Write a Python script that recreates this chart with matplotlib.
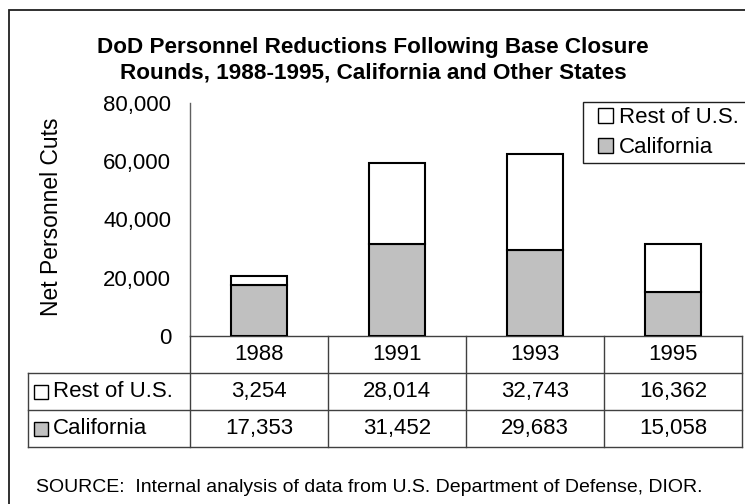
import matplotlib
matplotlib.use("Agg")
import matplotlib.pyplot as plt
from matplotlib.patches import Rectangle, Patch

plt.rcParams['font.family'] = ['Liberation Sans', 'DejaVu Sans']

years = ["1988", "1991", "1993", "1995"]
california = [17353, 31452, 29683, 15058]
rest_of_us = [3254, 28014, 32743, 16362]
series_names = ["Rest of U.S.", "California"]
yticks = [0, 20000, 40000, 60000, 80000]
title = "DoD Personnel Reductions Following Base Closure\nRounds, 1988-1995, California and Other States"
ylabel = "Net Personnel Cuts"
source = "SOURCE:  Internal analysis of data from U.S. Department of Defense, DIOR."

W, H = 745, 504
fig = plt.figure(figsize=(W / 100, H / 100), dpi=100)
fig.patch.set_facecolor("white")

def px(x0, y0, x1, y1):
    return [x0 / W, 1 - y1 / H, (x1 - x0) / W, (y1 - y0) / H]

GREY = "#c0c0c0"
LINEC = "#404040"
FS = 16

# outer border
fig.add_artist(Rectangle((9 / W, -0.05), 1.2, 1 - 10 / H + 0.05, transform=fig.transFigure,
                         fill=False, edgecolor="#202020", linewidth=1.3))

# main chart
ax = fig.add_axes(px(190, 103, 742, 336))
x = list(range(len(years)))
bw = 0.4
ax.bar(x, california, width=bw, color=GREY, edgecolor="black", linewidth=1.5, zorder=3)
ax.bar(x, rest_of_us, width=bw, bottom=california, color="white", edgecolor="black",
       linewidth=1.5, zorder=3)
ax.set_xlim(-0.5, len(years) - 0.5)
ax.set_ylim(0, 80000)
ax.set_yticks(yticks)
ax.set_yticklabels([f"{v:,}" for v in yticks], fontsize=FS)
ax.tick_params(axis="y", length=0, pad=13.5)
ax.set_xticks([])
for s in ["top", "right"]:
    ax.spines[s].set_visible(False)
ax.spines["left"].set_color("#606060")
ax.spines["bottom"].set_color(LINEC)
ax.spines["left"].set_linewidth(1.0)
ax.spines["bottom"].set_linewidth(1.0)
ax.set_facecolor("none")

fig.text(52 / W, 1 - 217 / H, ylabel, rotation=90, ha="center", va="center", fontsize=16.5)
fig.text(373 / W, 1 - 60 / H, title, ha="center", va="center", fontsize=16.2,
         fontweight="bold", linespacing=1.3)

# legend (frame drawn separately so it runs off the right edge like the reference)
fig.add_artist(Rectangle((583 / W, 1 - 163 / H), 0.5, 61 / H, transform=fig.transFigure,
                         facecolor="white", edgecolor="#202020", linewidth=1.0, zorder=5))
handles = [Patch(facecolor="white", edgecolor="black", linewidth=1.0),
           Patch(facecolor=GREY, edgecolor="black", linewidth=1.0)]
leg = fig.legend(handles, series_names, loc="upper left",
                 bbox_to_anchor=(598 / W, 1 - 107 / H), fontsize=FS, frameon=False,
                 handlelength=0.68, handleheight=0.68, handletextpad=0.28,
                 borderpad=0, labelspacing=0.42, borderaxespad=0)
leg.set_zorder(6)

# data table
colw = 138.0
left_px = 28
tab = fig.add_axes(px(left_px, 336, 742, 447))
x0 = -0.5 - (190 - left_px) / colw
tab.set_xlim(x0, len(years) - 0.5)
tab.set_ylim(3, 0)
tab.axis("off")
lw = 1.0
for yy in [1, 2, 3]:
    tab.plot([x0, len(years) - 0.5], [yy, yy], color=LINEC, lw=lw, clip_on=False)
for i in range(len(years) + 1):
    tab.plot([i - 0.5, i - 0.5], [0, 3], color=LINEC, lw=lw, clip_on=False)
tab.plot([x0, x0], [1, 3], color=LINEC, lw=lw, clip_on=False)

for i, yr in enumerate(years):
    tab.text(i, 0.5, yr, ha="center", va="center", fontsize=FS)
rows = [rest_of_us, california]
colors = ["white", GREY]
for r, (name, vals, c) in enumerate(zip(series_names, rows, colors)):
    yy = r + 1.5
    tab.plot([x0 + 13.5 / colw], [yy], marker="s", markersize=10,
             markerfacecolor=c, markeredgecolor="black", markeredgewidth=1.0,
             linestyle="none", clip_on=False)
    tab.text(x0 + 25 / colw, yy, name, ha="left", va="center", fontsize=FS)
    for i, v in enumerate(vals):
        tab.text(i, yy, f"{v:,}", ha="center", va="center", fontsize=FS)

fig.text(36 / W, 1 - 487 / H, source, ha="left", va="center", fontsize=14)

fig.savefig("out.png", dpi=100)
